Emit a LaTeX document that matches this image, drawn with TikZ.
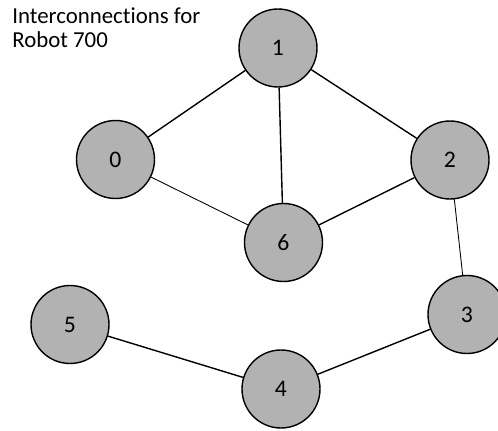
\documentclass[tikz,border=0pt]{standalone}
\usepackage{fontspec}
\setmainfont[Ligatures=NoCommon]{Carlito}

\begin{document}
\begin{tikzpicture}[
    robot/.style={circle, draw, line width=0.8pt, fill=gray!60, minimum size=1.56cm, inner sep=0pt, font=\fontsize{13.5}{14}\selectfont},
    link/.style={line width=0.8pt},
    thinlink/.style={line width=0.5pt}
]
    \useasboundingbox (0, 0) rectangle (9.96, 8.6);
    \clip (0, 0) rectangle (9.96, 8.6);

    % Titel (Grundlinie der zweiten Zeile)
    \node[anchor=base west, align=left, inner sep=0pt, font=\fontsize{13}{13.7}\selectfont] (titel) at (0.24, 7.64) {Interconnections for\\Robot 700};

    % Roboter
    \node[robot] (n1) at (5.56, 7.64) {1};
    \node[robot] (n0) at (2.31, 5.41) {0};
    \node[robot] (n2) at (9.00, 5.40) {2};
    \node[robot] (n6) at (5.67, 3.75) {6};
    \node[robot] (n3) at (9.34, 2.31) {3};
    \node[robot] (n5) at (1.40, 2.11) {5};
    \node[robot] (n4) at (5.62, 0.82) {4};

    % Verbindungen
    \draw[link] (n1) -- (n0);
    \draw[link] (n1) -- (n6);
    \draw[link] (n1) -- (n2);
    \draw[thinlink] (n0) -- (n6);
    \draw[link] (n6) -- (n2);
    \draw[thinlink] (n2) -- (n3);
    \draw[link] (n3) -- (n4);
    \draw[link] (n5) -- (n4);
\end{tikzpicture}
\end{document}
